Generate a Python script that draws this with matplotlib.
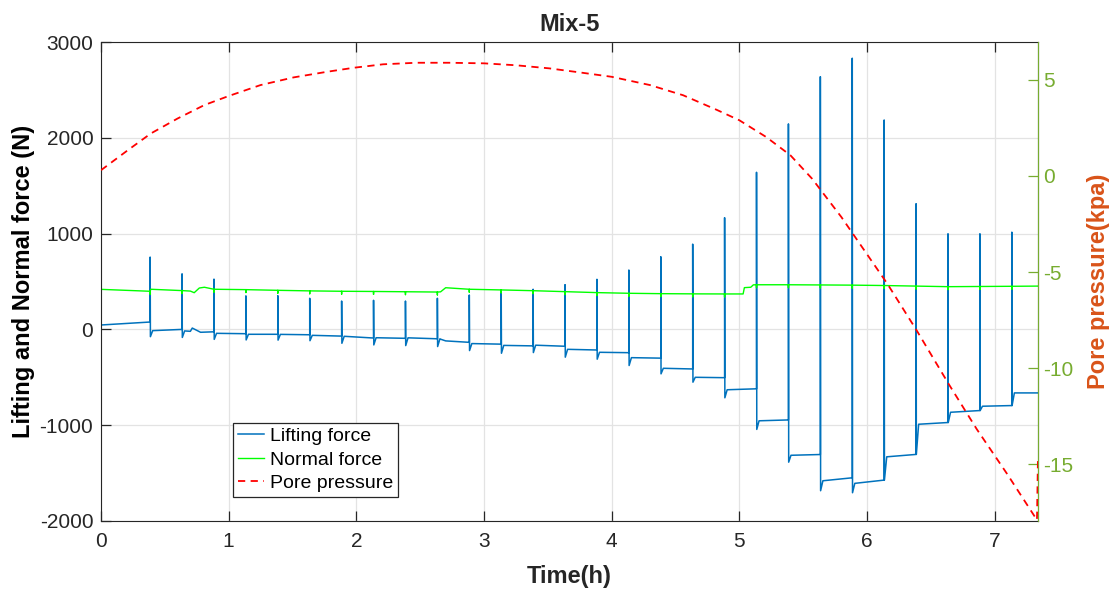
import numpy as np
import matplotlib
matplotlib.use("Agg")
from matplotlib import pyplot as plt

plt.rcParams['font.family'] = ['Liberation Sans', 'DejaVu Sans']
plt.rcParams['axes.unicode_minus'] = False

# Tiempos de cada ciclo (h) y valores (N).
spike_t = [0.385, 0.635, 0.885, 1.135, 1.385, 1.635, 1.885, 2.135, 2.385, 2.635,
           2.885, 3.135, 3.385, 3.635, 3.885, 4.135, 4.385, 4.635, 4.885, 5.135,
           5.385, 5.635, 5.885, 6.135, 6.385, 6.635, 6.885, 7.135]
spike_top = [755, 580, 525, 350, 352, 325, 296, 304, 296, 325,
             359, 383, 419, 467, 523, 620, 759, 890, 1166, 1640,
             2145, 2638, 2831, 2186, 1312, 998, 998, 1015]
spike_low = [-76, -84, -104, -110, -112, -118, -145, -162, -169, -179,
             -221, -249, -242, -290, -311, -377, -464, -551, -714, -1044,
             -1386, -1684, -1705, -1573, -1305, -972, -847, -795]
level_start = [-13, -16, -41, -51, -52, -62, -72, -87, -88, -98,
               -148, -167, -165, -208, -239, -295, -406, -500, -630, -954,
               -1314, -1580, -1607, -1330, -990, -865, -802, -663]
level_end = [0, -25, -45, -51, -56, -70, -90, -93, -98, -135,
             -154, -172, -176, -215, -243, -300, -413, -504, -620, -945,
             -1306, -1549, -1573, -1305, -972, -847, -795, -663]
lift_first = [46, 77]
lift_extra_t = [0.70, 0.715, 0.78, 2.66, 2.70]
lift_extra_v = [-20, 14, -30, -102, -120]
t_end = 7.34

# Fuerza normal.
normal_t = [0, 0.385, 0.39, 0.635, 0.70, 0.73, 0.77, 0.81, 0.885, 1.135,
            1.385, 1.635, 1.885, 2.135, 2.385, 2.635, 2.66, 2.70, 2.885, 3.135,
            3.385, 3.635, 3.885, 4.135, 4.385, 4.635, 4.885, 5.03, 5.04, 5.09,
            5.11, 5.135, 5.385, 5.635, 5.885, 6.135, 6.385, 6.635, 6.885, 7.135,
            7.34]
normal_v = [418, 398, 419, 405, 400, 383, 432, 440, 419, 415,
            408, 402, 398, 396, 393, 390, 392, 435, 419, 412,
            404, 394, 384, 377, 373, 371, 370, 370, 436, 440,
            465, 466, 466, 464, 462, 458, 452, 446, 448, 450,
            452]
normal_dip = 30

# Presion de poros (kPa).
pore_t = [0, 0.21, 0.39, 0.6, 0.81, 1.0, 1.25, 1.51, 1.77, 1.98,
          2.21, 2.47, 2.73, 3.0, 3.25, 3.51, 3.77, 4.0, 4.3, 4.56,
          4.82, 5.0, 5.21, 5.4, 5.57, 5.8, 6.16, 6.39, 6.64, 6.86,
          7.1, 7.332, 7.34]
pore_v = [0.3, 1.34, 2.21, 2.99, 3.69, 4.16, 4.73, 5.13, 5.42, 5.63,
          5.81, 5.89, 5.89, 5.86, 5.76, 5.6, 5.37, 5.16, 4.73, 4.2,
          3.45, 2.9, 2.03, 1.08, -0.14, -2.14, -5.61, -8.04, -10.82, -13.17,
          -15.52, -17.9, -14.56]

# Construir la serie de fuerza de levantamiento.
lt = [0, spike_t[0]]
lv = list(lift_first)
for i, t in enumerate(spike_t):
    nxt = spike_t[i + 1] if i + 1 < len(spike_t) else t_end
    lt += [t, t + 0.002, t + 0.02, nxt]
    lv += [spike_top[i], spike_low[i], level_start[i], level_end[i]]
lt += lift_extra_t
lv += lift_extra_v
order = np.argsort(lt, kind='stable')
lt = np.array(lt)[order]
lv = np.array(lv)[order]

# Serie normal con pequenas caidas en cada ciclo.
nt, nv = [], []
for t, v in zip(normal_t, normal_v):
    nt.append(t)
    nv.append(v)
    if np.any(np.isclose(spike_t, t)):
        nt += [t, t]
        nv += [v - normal_dip, v]

fig = plt.figure(figsize=(11.16, 5.91), dpi=100)
ax = fig.add_axes([101 / 1116, 1 - 521 / 591, 937 / 1116, 479 / 591])
ax2 = ax.twinx()

linea_l, = ax.plot(lt, lv, c='#0072BD', lw=1.1, label='Lifting force')
linea_n, = ax.plot(nt, nv, c='#00FF00', lw=1.0, label='Normal force')
linea_p, = ax2.plot(pore_t, pore_v, c='#FF0000', lw=1.3, ls=(0, (4, 3)),
                    label='Pore pressure')

ax.set_xlim(0, t_end)
ax.set_ylim(-2000, 3000)
ax.set_xticks(range(0, 8))
ax.set_yticks(range(-2000, 3001, 1000))
ax2.set_ylim(-17.95, 6.97)
ax2.set_yticks([-15, -10, -5, 0, 5])

ax.grid(True, color='#e3e3e3', lw=0.9)
ax.set_axisbelow(True)
ax.tick_params(axis='x', direction='in', length=7, width=0.9, top=True,
               labelsize=15, colors='#262626', pad=8)
ax.tick_params(axis='y', direction='in', length=7, width=0.9,
               labelsize=15, colors='#262626', pad=5.5)
ax2.tick_params(axis='y', direction='in', length=7, width=0.9,
                labelsize=15, colors='#77AC30')
for s in ['left', 'top', 'bottom']:
    ax.spines[s].set_color('#262626')
ax2.spines['right'].set_color('#77AC30')
ax2.spines['left'].set_visible(False)
ax2.spines['top'].set_visible(False)
ax2.spines['bottom'].set_visible(False)

ax.set_title('Mix-5', fontsize=17, fontweight='bold', color='#262626', pad=8)
ax.set_xlabel('Time(h)', fontsize=17, fontweight='bold', color='#262626',
              labelpad=10)
ax.set_ylabel('Lifting and Normal force (N)', fontsize=17, fontweight='bold',
              color='black', labelpad=3)
ax2.set_ylabel('Pore pressure(kpa)', fontsize=17, fontweight='bold',
               color='#D95319', labelpad=10)

# Leyenda con las tres series.
leg = ax.legend(handles=[linea_l, linea_n, linea_p], loc='lower left',
                bbox_to_anchor=(0.141, 0.05), borderaxespad=0, fancybox=False,
                framealpha=1, edgecolor='#262626', fontsize=14,
                handlelength=1.35, handletextpad=0.3, labelspacing=0.3,
                borderpad=0.25)
leg.get_frame().set_linewidth(0.9)
leg.set_zorder(5)

fig.savefig('out.png', dpi=100)
